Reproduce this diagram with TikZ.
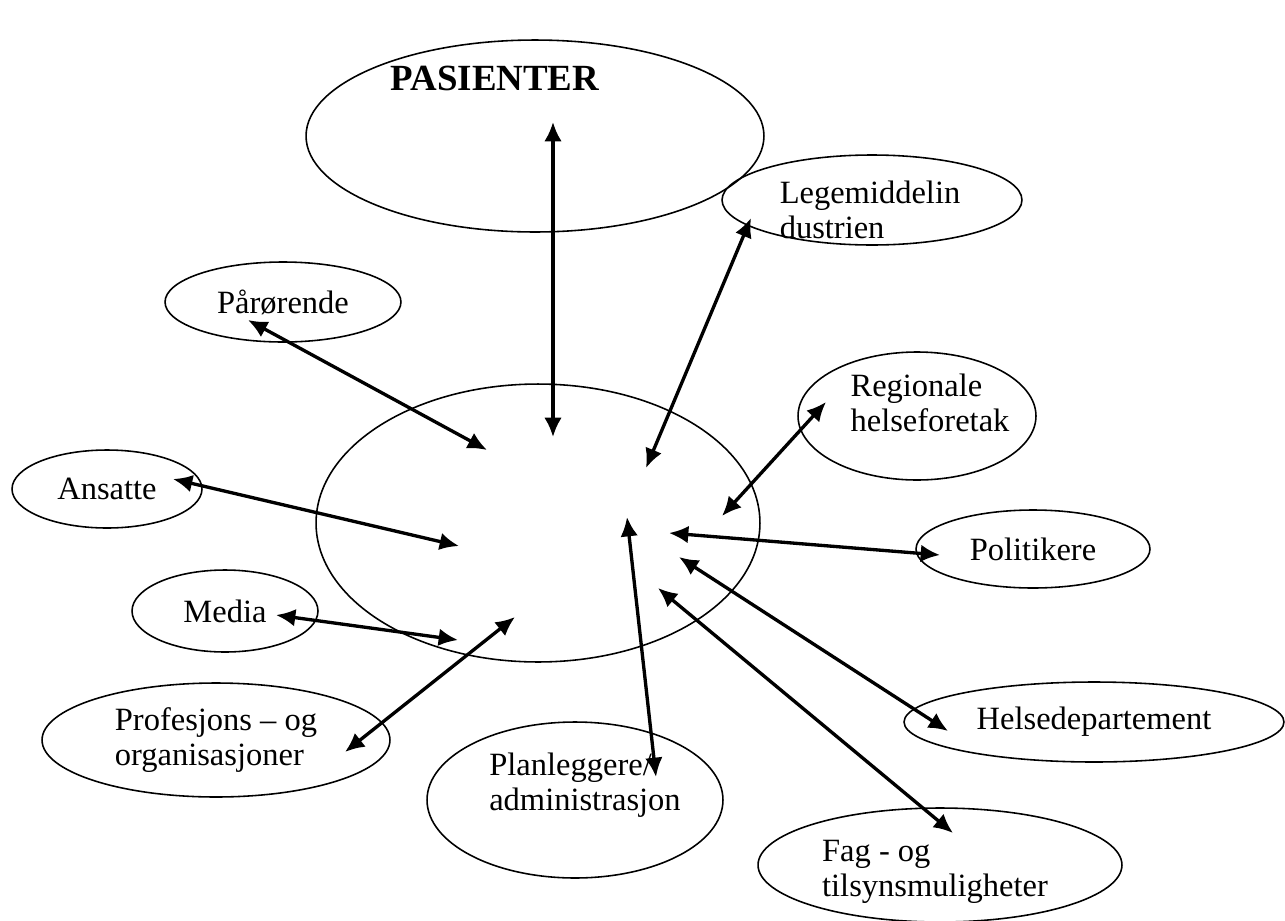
\documentclass[tikz,border=0pt]{standalone}
\usepackage{fontspec}
\setmainfont{Liberation Serif}
\usetikzlibrary{shapes.geometric, arrows.meta}

\begin{document}
\begin{tikzpicture}[
    x=0.02cm, y=-0.02cm,
    >={Latex[length=11pt,width=10pt]},
    % Styles
    actor/.style={draw, ellipse, line width=0.9pt, inner sep=0pt,
        font=\fontsize{18.5}{20}\selectfont, align=left},
    hub/.style={draw, ellipse, line width=0.9pt},
    txt/.style={font=\fontsize{18.5}{20}\selectfont, align=left,
        inner sep=0pt},
    title/.style={font=\fontsize{21}{24}\selectfont\bfseries},
    link/.style={<->, line width=1.9pt},
]
\useasboundingbox (0,0) rectangle (1285,920);

% ===== Central organisation and patients =====
\node[hub, minimum width=8.88cm, minimum height=5.56cm] (mid) at (538,523) {};

\node[hub, minimum width=9.16cm, minimum height=3.84cm,
    label={[title, xshift=-0.8cm, yshift=1.16cm]center:PASIENTER}]
    (pas) at (535,136) {};

% ===== Surrounding actors =====
\node[actor, minimum width=6.0cm, minimum height=1.8cm,
    label={[txt, xshift=-0.04cm, yshift=-0.2cm]center:{Legemiddelin\\dustrien}}]
    (leg) at (872,200) {};
\node[actor, minimum width=4.72cm, minimum height=1.6cm] (par) at (283,302)
    {Pårørende};
\node[actor, minimum width=4.76cm, minimum height=2.56cm,
    label={[txt, xshift=0.26cm, yshift=0.26cm]center:{Regionale\\helseforetak}}]
    (reg) at (917,416) {};
\node[actor, minimum width=3.8cm, minimum height=1.56cm] (ans) at (107,489)
    {Ansatte};
\node[actor, minimum width=4.68cm, minimum height=1.56cm] (pol) at (1033,549)
    {Politikere};
\node[actor, minimum width=3.72cm, minimum height=1.64cm] (med) at (225,611)
    {Media};
\node[actor, minimum width=6.96cm, minimum height=2.28cm] (pro) at (216,740)
    {Profesjons -- og\\organisasjoner};
\node[actor, minimum width=5.92cm, minimum height=3.12cm,
    label={[txt, xshift=0.2cm, yshift=0.3cm]center:{Planleggere/\\administrasjon}}]
    (pla) at (575,800) {};
\node[actor, minimum width=7.6cm, minimum height=1.6cm] (hel) at (1094,722)
    {Helsedepartement};
\node[actor, minimum width=7.28cm, minimum height=2.28cm,
    label={[txt, xshift=-0.1cm, yshift=-0.14cm]center:{Fag - og\\tilsynsmuligheter}}]
    (fag) at (940,865) {};

% ===== Arrow ends =====
\coordinate (o-pas) at (553,122);  \coordinate (i-pas) at (553,437);
\coordinate (o-par) at (248,320);  \coordinate (i-par) at (487,450);
\coordinate (o-ans) at (173,479);  \coordinate (i-ans) at (459,546);
\coordinate (o-med) at (276,615);  \coordinate (i-med) at (458,640);
\coordinate (o-pro) at (345,752);  \coordinate (i-pro) at (515,617);
\coordinate (o-pla) at (656,777);  \coordinate (i-pla) at (627,517);
\coordinate (o-fag) at (953,833);  \coordinate (i-fag) at (658,588);
\coordinate (o-hel) at (948,731);  \coordinate (i-hel) at (679,557);
\coordinate (o-pol) at (940,555);  \coordinate (i-pol) at (669,533);
\coordinate (o-reg) at (826,402);  \coordinate (i-reg) at (722,516);
\coordinate (o-leg) at (751,218);  \coordinate (i-leg) at (646,468);

% ===== Two-way links =====
\draw[link] (o-pas) -- (i-pas);
\draw[link] (o-par) -- (i-par);
\draw[link] (o-ans) -- (i-ans);
\draw[link] (o-med) -- (i-med);
\draw[link] (o-pro) -- (i-pro);
\draw[link] (o-pla) -- (i-pla);
\draw[link] (o-fag) -- (i-fag);
\draw[link] (o-hel) -- (i-hel);
\draw[link] (o-pol) -- (i-pol);
\draw[link] (o-reg) -- (i-reg);
\draw[link] (o-leg) -- (i-leg);

\end{tikzpicture}
\end{document}
